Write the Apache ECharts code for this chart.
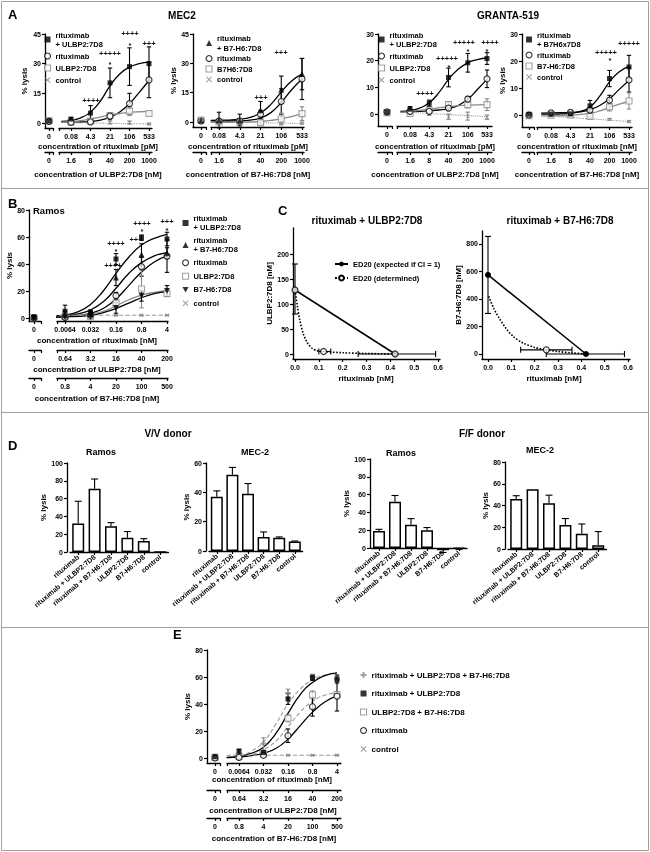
<!DOCTYPE html>
<html><head><meta charset="utf-8"><title>chart</title>
<script src="https://cdn.jsdelivr.net/npm/echarts@6/dist/echarts.min.js"></script>
<style>html,body{margin:0;padding:0;background:#fff;}#chart{width:650px;height:852px;will-change:transform;-webkit-font-smoothing:antialiased;}#chart svg{will-change:transform;}</style>
</head><body><div id="chart"></div>
<script>
// ================= DATA =================
const A_rituxLabels = ['0.08','4.3','21','106','533'];
const A_ulbpLabels = ['1.6','8','40','200','1000'];
const A_b7Labels = ['1.6','8','40','200','1000'];
const BE_rituxLabels = ['0.0064','0.032','0.16','0.8','4'];
const BE_ulbpLabels = ['0.64','3.2','16','40','200'];
const BE_b7Labels = ['0.8','4','20','100','500'];
const yTicksMEC2 = [0,15,30,45];
const yTicksGRANTA = [0,10,20,30];
const yTicksRamos = [0,20,40,60,80];

// A1: MEC2, rituximab + ULBP2:7D8   (zero = value at concentration 0: RU, R, U, control)
const A1_zero = [1.0, 0.8, 1.2, 0.3];
const A1_RU = [2.0, 5.0, 20.3, 28.5, 30.0];
const A1_RU_err = [0.6, 3.8, 7.5, 9.5, 8.5];
const A1_R = [0.4, 0.6, 3.5, 9.8, 21.8];
const A1_R_err = [0.5, 0.8, 1.5, 5.2, 9.0];
const A1_U = [0.4, 1.0, 3.8, 6.0, 4.8];
const A1_U_err = [0.5, 1.0, 1.5, 2.2, 1.0];
const A1_C = [-0.2, 0.2, 0.3, 0.2, -0.5];
const A1_C_err = [0.4, 0.4, 0.8, 0.8, 0.4];
const A1_RU_fit = [[0.5,0.8],[1,1.3],[1.5,2.6],[2,5.5],[2.5,11],[3,18.8],[3.5,24.8],[4,28.3],[4.5,30],[5,30.8]];
const A1_R_fit = [[0.5,0.4],[1,0.4],[1.5,0.5],[2,0.7],[2.5,1.4],[3,3],[3.5,5.6],[4,9.8],[4.5,15.5],[5,21.5]];
const A1_U_fit = [[0.5,0.4],[1,0.7],[1.5,1.2],[2,2],[2.5,3],[3,4],[3.5,4.8],[4,5.4],[4.5,5.7],[5,5.9]];
const A1_C_fit = [[0.5,0.3],[5,-0.5]];
const A1_sig = [[2,11.6,'++++'],[3,35.4,'+++++'],[3,29.8,'*'],[4,45.5,'++++'],[4,39.4,'*'],[5,40.4,'+++']];

// A2: MEC2, rituximab + B7-H6:7D8
const A2_zero = [0.8, 0.5, 1.0, 0.2];
const A2_RB = [1.0, 1.0, 6.0, 16.5, 24.5];
const A2_RB_err = [4.0, 3.0, 4.5, 7.0, 8.0];
const A2_R = [0.5, 0.6, 4.0, 10.5, 22.0];
const A2_R_err = [1.0, 1.0, 2.0, 6.5, 10.5];
const A2_B = [0.0, 0.2, -0.3, 1.5, 4.3];
const A2_B_err = [1.0, 1.0, 1.0, 3.0, 3.5];
const A2_C = [0.0, 0.0, -0.3, -0.5, -0.6];
const A2_C_err = [0.5, 0.5, 0.5, 0.5, 0.5];
const A2_RB_fit = [[0.6,0.8],[1,0.9],[1.5,1],[2,1.4],[2.5,2.4],[3,4.6],[3.5,9],[4,15.3],[4.5,21],[5,24.5]];
const A2_R_fit = [[0.6,0.4],[1,0.4],[1.5,0.5],[2,0.6],[2.5,1],[3,2],[3.5,4.8],[4,10],[4.5,16.5],[5,22]];
const A2_B_fit = [[0.6,-0.2],[1,-0.2],[2,-0.1],[2.5,0],[3,0.3],[3.5,0.8],[4,1.6],[4.5,2.8],[5,4.3]];
const A2_C_fit = [[0.6,0.2],[5,-0.8]];
const A2_sig = [[3,12.8,'+++'],[4,35.8,'+++']];

// A3: GRANTA-519, rituximab + ULBP2:7D8
const A3_zero = [0.7, 0.8, 0.5, 0.5];
const A3_RU = [1.8, 4.0, 13.7, 19.2, 20.8];
const A3_RU_err = [1.0, 1.2, 3.5, 3.5, 2.2];
const A3_R = [1.0, 1.0, 2.2, 5.6, 13.2];
const A3_R_err = [0.5, 0.5, 0.8, 1.0, 3.3];
const A3_U = [0.2, 1.5, 3.5, 3.5, 3.5];
const A3_U_err = [0.5, 0.8, 1.0, 1.2, 2.2];
const A3_C = [0.3, 0.0, -1.0, -0.8, -1.2];
const A3_C_err = [0.5, 0.5, 1.0, 1.5, 0.8];
const A3_RU_fit = [[0.5,1],[1,1.3],[1.5,2.2],[2,4.2],[2.5,8],[3,13],[3.5,16.8],[4,19.2],[4.5,20.4],[5,21]];
const A3_R_fit = [[0.5,0.8],[1,0.9],[1.5,1],[2,1.2],[2.5,1.5],[3,2],[3.5,3.2],[4,5.5],[4.5,9.2],[5,13]];
const A3_U_fit = [[0.5,0.6],[1,0.9],[2,1.8],[3,2.8],[4,3.3],[5,3.5]];
const A3_C_fit = [[0.5,0.8],[5,-1]];
const A3_sig = [[1.8,7.9,'++++'],[2.9,21.0,'+++++'],[3,17.5,'*'],[3.8,27,'+++++'],[4,23.6,'*'],[5.15,27,'++++'],[5,23.6,'*']];

// A4: GRANTA-519, rituximab + B7-H6:7D8
const A4_zero = [0.3, 0.0, -0.3, 0.0];
const A4_RB = [0.3, 0.4, 3.4, 13.5, 17.8];
const A4_RB_err = [0.5, 0.5, 2.0, 3.0, 4.3];
const A4_R = [0.8, 1.0, 1.8, 5.5, 13.0];
const A4_R_err = [0.5, 0.5, 0.8, 1.8, 4.5];
const A4_B = [-0.1, 0.0, -0.5, 3.0, 5.2];
const A4_B_err = [0.5, 0.5, 0.5, 1.5, 3.0];
const A4_C = [-0.5, -0.6, -1.0, -1.6, -2.4];
const A4_C_err = [0.3, 0.3, 0.3, 0.3, 0.3];
const A4_RB_fit = [[0.5,0.3],[1,0.3],[1.5,0.4],[2,0.6],[2.5,1.3],[3,3],[3.5,7],[4,12.3],[4.5,16],[5,18]];
const A4_R_fit = [[0.5,0.7],[1,0.8],[2,0.9],[2.5,1.2],[3,2],[3.5,3.5],[4,6],[4.5,9.5],[5,12.8]];
const A4_B_fit = [[0.5,-0.3],[1,-0.3],[2,-0.1],[3,0.6],[3.5,1.5],[4,2.8],[4.5,4],[5,5]];
const A4_C_fit = [[0.5,-0.2],[5,-2.4]];
const A4_sig = [[3.8,23.5,'+++++'],[4,20.5,'*'],[5,26.7,'+++++']];

// B: Ramos  (zero: RU, RB, R, U, B, control)
const B_zero = [1.0, 0.5, 0.0, 0.0, 0.0, -1.0];
const B_RU = [5.0, 4.0, 43.7, 59.5, 58.5];
const B_RU_err = [4.5, 2.0, 4.0, 2.0, 5.0];
const B_RB = [2.0, 3.0, 30.0, 47.0, 48.0];
const B_RB_err = [3.0, 2.0, 6.0, 8.0, 4.0];
const B_R = [0.5, 2.0, 16.5, 38.0, 45.8];
const B_R_err = [1.0, 1.0, 2.5, 7.0, 12.0];
const B_U = [1.0, 1.0, 11.0, 21.5, 18.0];
const B_U_err = [1.0, 1.0, 2.0, 14.0, 2.0];
const B_B = [0.5, 1.0, 7.5, 16.5, 20.0];
const B_B_err = [1.0, 1.0, 4.0, 4.0, 4.0];
const B_C = [2.0, 2.0, 2.0, 2.0, 2.0];
const B_C_err = [0.3, 0.3, 0.3, 0.3, 0.3];
const B_RU_fit = [[0.1,1],[1,2.2],[1.5,4.5],[2,10],[2.5,20],[3,33],[3.5,45],[4,54],[4.5,59],[5,62]];
const B_RB_fit = [[0.1,0.8],[1,1.5],[1.5,3],[2,6],[2.5,12],[3,22],[3.5,33],[4,41],[4.5,46],[5,48.5]];
const B_R_fit = [[0.1,0.5],[1,1],[1.5,1.8],[2,3.5],[2.5,7],[3,14],[3.5,24],[4,34],[4.5,41.5],[5,46]];
const B_U_fit = [[0.1,0.5],[1,1],[2,3],[2.5,5],[3,9],[3.5,13.5],[4,17],[4.5,19],[5,20]];
const B_B_fit = [[0.1,0.5],[1,0.8],[2,2],[2.5,4],[3,7],[3.5,11],[4,15],[4.5,18],[5,19.5]];
const B_C_fit = [[0,2],[5,2]];
const B_sig = [[3,55.3,'++++'],[3,49.6,'*'],[2.9,39.3,'++++'],[4,70.1,'++++'],[4,64.4,'*'],[3.8,58.3,'+++'],[5,71.6,'+++'],[5,65.2,'*']];

// C: isobolograms
const C1_expected = [[0,128],[0.42,0]];
const C1_expYErr = [[0,128,80,180]];
const C1_detPoints = [[0,128],[0.12,5],[0.42,0]];
const C1_detCurve = [[0,128],[0.01,96],[0.02,68],[0.035,40],[0.05,24],[0.07,12],[0.09,7],[0.12,5],[0.2,2.5],[0.3,1],[0.42,0]];
const C1_xErr = [[0.12,5,0.1,0.15],[0.42,0,0.265,0.59]];
const C2_expected = [[0,575],[0.42,0]];
const C2_expYErr = [[0,575,295,855]];
const C2_detPoints = [[0.25,30]];
const C2_detCurve = [[0.003,420],[0.025,330],[0.05,255],[0.08,180],[0.11,125],[0.15,80],[0.2,48],[0.25,30],[0.3,18],[0.36,8],[0.42,0]];
const C2_xErr = [[0.25,30,0.14,0.36],[0.42,0,0.25,0.585]];
const C1_yTicks = [0,50,100,150,200];
const C2_yTicks = [0,200,400,600,800];
const C_xTicks = [0,0.1,0.2,0.3,0.4,0.5,0.6];

// D: bar charts
const D_cats = ['rituximab','rituximab + ULBP2:7D8','rituximab + B7-H6:7D8','ULBP2:7D8','B7-H6:7D8','control'];
const D1_vals = [32, 71, 29, 16, 12.5, 0];
const D1_err = [25, 11, 4, 7, 2.5, 0];
const D2_vals = [37, 52, 39, 9.5, 9, 6.5];
const D2_err = [4, 5, 7, 3.5, 0.6, 0.3];
const D3_vals = [19, 52, 26, 20, -2.5, -0.5];
const D3_err = [2, 7, 7, 3, 2.5, 1];
const D4_vals = [46, 55, 42, 22, 14, 3.5];
const D4_err = [3, 0, 7.5, 6, 9, 12.5];

// E: Ramos, triple combination (zero: RUB, RU, UB, R, control)
const E_zero = [1.0, 1.0, 0.5, 0.0, 0.0];
const E_RUB = [1.0, 10.5, 48.0, 60.0, 58.5];
const E_RUB_err = [1.0, 4.5, 3.0, 2.0, 2.0];
const E_RU = [5.0, 4.0, 43.7, 59.5, 58.5];
const E_RU_err = [1.5, 1.5, 4.0, 2.0, 3.0];
const E_UB = [1.0, 3.0, 29.4, 46.7, 47.0];
const E_UB_err = [1.0, 1.0, 2.5, 3.0, 2.0];
const E_R = [0.5, 2.0, 16.5, 38.0, 45.8];
const E_R_err = [1.0, 1.0, 5.0, 7.0, 11.0];
const E_C = [2.0, 2.0, 2.0, 2.0, 2.0];
const E_C_err = [0.3, 0.3, 0.3, 0.3, 0.3];
const E_RUB_fit = [[0.5,0.5],[1,1.5],[1.5,5],[2,12],[2.5,25],[3,40],[3.5,51],[4,58],[4.5,61.5],[5,63]];
const E_RU_fit = [[0.5,0.5],[1,1.2],[1.5,3.5],[2,8],[2.5,18],[3,33],[3.5,47],[4,56],[4.5,61],[5,63]];
const E_UB_fit = [[0.5,0.3],[1,1],[1.5,2.5],[2,6],[2.5,12.5],[3,23],[3.5,34],[4,42],[4.5,46.5],[5,48.5]];
const E_R_fit = [[0.5,0.3],[1,0.8],[1.5,1.8],[2,3.5],[2.5,7],[3,14],[3.5,24],[4,34],[4.5,41.5],[5,46]];
const E_C_fit = [[0.5,2],[5,2]];

// ================= BUILD =================
const FONT = '"Liberation Sans", Arial, Helvetica, sans-serif';
const BLK = '#000', GRY = '#8a8a8a', GRYL = '#9c9c9c';
const XPATH = 'path://M0,1.3L1.3,0L5,3.7L8.7,0L10,1.3L6.3,5L10,8.7L8.7,10L5,6.3L1.3,10L0,8.7L3.7,5Z';
const PLUS = 'path://M3.3,0H6.7V3.3H10V6.7H6.7V10H3.3V6.7H0V3.3H3.3Z';
const DOWN = 'path://M0,0L10,0L5,9Z';
const STY = {
  RU:   {symbol:'rect', size:5, fill:BLK, stroke:null, lc:BLK, lt:'solid', z:6},
  RBt:  {symbol:'triangle', size:6, fill:BLK, stroke:null, lc:BLK, lt:'solid', z:6},
  R:    {symbol:'circle', size:6, fill:'#fff', stroke:BLK, lc:BLK, lt:'solid', z:5},
  U:    {symbol:'rect', size:6, fill:'#fff', stroke:GRY, lc:GRY, lt:'solid', z:4},
  Bd:   {symbol:DOWN, size:6, fill:BLK, stroke:null, lc:BLK, lt:'solid', z:5},
  Cdot: {symbol:XPATH, size:4, fill:GRY, stroke:null, lc:GRYL, lt:'dotted', z:3},
  Cdash:{symbol:XPATH, size:4, fill:GRY, stroke:null, lc:GRYL, lt:'dashed', z:3},
  UBd:  {symbol:'rect', size:6, fill:'#fff', stroke:GRY, lc:GRYL, lt:'dashed', z:4},
  RUB:  {symbol:PLUS, size:6, fill:GRY, stroke:null, lc:GRYL, lt:'dashed', z:5}
};

const option = {animation:false, backgroundColor:'#fff', textStyle:{fontFamily:FONT},
  grid:[], xAxis:[], yAxis:[], series:[], legend:[], graphic:[]};

function addGrid(g){ option.grid.push(Object.assign({outerBoundsMode:'none', containLabel:false, show:false}, g)); return option.grid.length-1; }
function addX(a){ option.xAxis.push(a); return option.xAxis.length-1; }
function addY(a){ option.yAxis.push(a); return option.yAxis.length-1; }
function lineCfg(){ return {show:true, onZero:false, lineStyle:{color:BLK, width:1.3}}; }
function tickCfg(vals){ const t={show:true, inside:false, length:3, lineStyle:{color:BLK, width:1.2}}; if(vals) t.customValues=vals; return t; }
function labCfg(size, margin, vals, fmt){ const l={show:true, color:BLK, fontSize:size, fontWeight:'bold', fontFamily:FONT, margin:margin}; if(vals) l.customValues=vals; if(fmt) l.formatter=fmt; return l; }
const nameStyle = {fontSize:8, fontWeight:'bold', fontFamily:FONT, color:BLK};

function errSeries(xi, yi, data, color, capW, horizontal, capBothEnds){
  return {type:'custom', xAxisIndex:xi, yAxisIndex:yi, data:data, silent:true, z:3, clip:false,
    renderItem:function(p, api){
      const x=api.value(0), y=api.value(1), lo=api.value(2), hi=api.value(3);
      const a = horizontal ? api.coord([lo,y]) : api.coord([x,lo]);
      const b = horizontal ? api.coord([hi,y]) : api.coord([x,hi]);
      const st={stroke:color, lineWidth:1.1, fill:null};
      const ch=[{type:'line', shape:{x1:a[0],y1:a[1],x2:b[0],y2:b[1]}, style:st}];
      const ends = capBothEnds ? [a,b] : [b];
      ends.forEach(function(q){
        if(horizontal) ch.push({type:'line', shape:{x1:q[0],y1:q[1]-capW,x2:q[0],y2:q[1]+capW}, style:st});
        else ch.push({type:'line', shape:{x1:q[0]-capW,y1:q[1],x2:q[0]+capW,y2:q[1]}, style:st});
      });
      return {type:'group', children:ch};
    }};
}
// significance marks drawn as text at data coordinates
function sigSeries(xi, yi, sig){
  return {type:'custom', xAxisIndex:xi, yAxisIndex:yi, silent:true, clip:false, z:8,
    data:sig.map(function(a){return [a[0], a[1]];}),
    renderItem:function(p, api){
      const c = api.coord([api.value(0), api.value(1)]);
      return {type:'text', x:Math.round(c[0]), y:Math.round(c[1]), style:{text:sig[p.dataIndex][2], fill:'#111', font:'bold 7.5px '+FONT,
        align:'center', verticalAlign:'middle', textAlign:'center', textVerticalAlign:'middle'}};
    }};
}
function itemStyleOf(s){ return s.stroke ? {color:s.fill, borderColor:s.stroke, borderWidth:1.1} : {color:s.fill, borderWidth:0}; }

function dosePlot(id, L, groups, sig){
  const h = L.bottom - L.top;
  const scale = (L.y0 - L.top) / L.yMax;
  const yMin = -(L.bottom - L.y0) / scale;
  const zg = addGrid({left:L.yx, top:L.top, width:L.zR-L.yx, height:h});
  const mg = addGrid({left:L.mL, top:L.top, width:L.mR-L.mL, height:h});
  const zMin = L.yx - L.z0, zMax = L.zR - L.z0;
  const mMin = 1 + (L.mL-L.p1)/L.step, mMax = 1 + (L.mR-L.p1)/L.step;
  const yz = addY({type:'value', gridIndex:zg, min:yMin, max:L.yMax, position:'left',
    axisLine:lineCfg(), axisTick:tickCfg(L.yTicks), axisLabel:labCfg(7, 4, L.yTicks), splitLine:{show:false},
    name:L.yName||'', nameLocation:'middle', nameRotate:90, nameGap:L.yNameGap||14, nameTextStyle:nameStyle});
  const ym = addY({type:'value', gridIndex:mg, min:yMin, max:L.yMax, show:false, splitLine:{show:false}});
  let xz=null, xm=null;
  L.rows.forEach(function(labels, r){
    const off = L.rowOff[r];
    const a = addX({type:'value', gridIndex:zg, min:zMin, max:zMax, position:'bottom', offset:off,
      axisLine:lineCfg(), axisTick:tickCfg([0, zMax]), axisLabel:labCfg(7, 5, [0], function(){return '0';}), splitLine:{show:false}});
    const b = addX({type:'value', gridIndex:mg, min:mMin, max:mMax, position:'bottom', offset:off,
      axisLine:lineCfg(), axisTick:tickCfg([mMin,1,2,3,4,5]), axisLabel:labCfg(7, 5, [1,2,3,4,5], function(v){return labels[Math.round(v)-1];}), splitLine:{show:false}});
    if(r===0){ xz=a; xm=b; }
  });
  const legendNames = [];
  groups.forEach(function(g){
    const s = STY[g.sty];
    const nm = g.label + '@' + id;
    legendNames.push(nm);
    option.series.push({type:'line', name:'fit '+nm, xAxisIndex:xm, yAxisIndex:ym, data:g.fit, smooth:0.5,
      showSymbol:false, symbol:'none', clip:false, silent:true, z:2,
      lineStyle:{color:s.lc, width:s.lt==='solid'?1.3:1.1, type:s.lt}});
    option.series.push(errSeries(xm, ym, g.pts.map(function(v,i){return [i+1, v, v-g.err[i], v+g.err[i]];}), s.stroke||s.fill, 2.2, false, true));
    const sc = {type:'scatter', name:nm, symbol:s.symbol, symbolSize:s.size, itemStyle:itemStyleOf(s), clip:false, z:s.z, silent:true};
    option.series.push(Object.assign({xAxisIndex:xm, yAxisIndex:ym, data:g.pts.map(function(v,i){return [i+1,v];})}, sc));
    option.series.push(Object.assign({xAxisIndex:xz, yAxisIndex:yz, data:[[0, g.zero]]}, sc));
  });
  if(sig && sig.length) option.series.push(sigSeries(xm, ym, sig));
  option.legend.push({orient:'vertical', left:L.lg.left, top:L.lg.top, itemGap:L.lg.gap, itemWidth:6, itemHeight:6,
    padding:0, selectedMode:false, data:legendNames, formatter:function(n){return n.split('@')[0];},
    itemStyle:{borderWidth:1.1},
    textStyle:{fontSize:L.lg.fs||7.5, fontWeight:'bold', fontFamily:FONT, color:BLK, lineHeight:L.lg.lh}});
}

function barPlot(L, vals, errs){
  const g = addGrid({left:L.left, top:L.top, width:L.width, height:L.height});
  const xi = addX({type:'category', gridIndex:g, data:D_cats, position:'bottom',
    axisLine:lineCfg(), axisTick:{show:true, alignWithLabel:true, length:3, lineStyle:{color:BLK, width:1.2}},
    axisLabel:{show:true, interval:0, rotate:40, fontSize:7, fontWeight:'bold', fontFamily:FONT, color:BLK, margin:4}, splitLine:{show:false}});
  const yi = addY({type:'value', gridIndex:g, min:0, max:L.max, interval:20, position:'left', offset:L.yOff,
    axisLine:lineCfg(), axisTick:tickCfg(), axisLabel:labCfg(7, 4), splitLine:{show:false},
    name:'% lysis', nameLocation:'middle', nameRotate:90, nameGap:L.nameGap, nameTextStyle:nameStyle});
  option.series.push({type:'bar', xAxisIndex:xi, yAxisIndex:yi, data:vals, barWidth:12, clip:false, silent:true, z:2,
    itemStyle:{color:'#fff', borderColor:BLK, borderWidth:1.5}});
  option.series.push(errSeries(xi, yi, vals.map(function(v,i){ const e=errs[i]; return [i, v, v, v<0 ? v-e : v+e]; }).filter(function(d,i){return errs[i]>0;}), BLK, 3.5, false, false));
}

function isoPlot(id, L, expected, expYErr, detPoints, detCurve, xErr, yTicks, yName, legendCfg){
  const g = addGrid({left:L.left, top:L.top, width:L.width, height:L.height});
  const xi = addX({type:'value', gridIndex:g, min:L.xMin, max:L.xMax, position:'bottom',
    axisLine:lineCfg(), axisTick:tickCfg(C_xTicks), axisLabel:labCfg(7, 5, C_xTicks, function(v){return v.toFixed(1);}), splitLine:{show:false}});
  const yi = addY({type:'value', gridIndex:g, min:L.yMin, max:L.yMax, position:'left',
    axisLine:lineCfg(), axisTick:tickCfg(yTicks), axisLabel:labCfg(7, 4, yTicks), splitLine:{show:false},
    name:yName, nameLocation:'middle', nameRotate:90, nameGap:L.nameGap, nameTextStyle:nameStyle});
  const expName = 'ED20 (expected if CI = 1)@' + id, detName = 'ED20 (determined)@' + id;
  option.series.push({type:'line', name:expName, xAxisIndex:xi, yAxisIndex:yi, data:expected, symbol:'circle', symbolSize:6,
    itemStyle:{color:BLK}, lineStyle:{color:BLK, width:1.5}, clip:false, silent:true, z:4});
  option.series.push({type:'line', name:detName, xAxisIndex:xi, yAxisIndex:yi, smooth:0.3,
    data:detCurve.map(function(p){return {value:p, symbol:'none'};}), symbol:'circle', symbolSize:6, showAllSymbol:true,
    itemStyle:{color:'#fff', borderColor:BLK, borderWidth:1.2}, lineStyle:{color:BLK, width:1.6, type:'dotted'}, clip:false, silent:true, z:3});
  option.series.push({type:'scatter', name:detName, xAxisIndex:xi, yAxisIndex:yi, data:detPoints, symbol:'circle', symbolSize:6,
    itemStyle:{color:'#fff', borderColor:BLK, borderWidth:1.2}, clip:false, silent:true, z:6});
  option.series.push(errSeries(xi, yi, expYErr, BLK, 3, false, true));
  option.series.push(errSeries(xi, yi, xErr, BLK, 3, true, true));
  if(legendCfg){
    option.legend.push({orient:'vertical', left:legendCfg.left, top:legendCfg.top, itemGap:legendCfg.gap, itemWidth:13, itemHeight:6,
      padding:0, selectedMode:false, data:[expName, detName], formatter:function(n){return n.split('@')[0];},
      textStyle:{fontSize:7.5, fontWeight:'bold', fontFamily:FONT, color:BLK}});
  }
}

// ---- Panel A ----
dosePlot('A1', {yx:45,z0:49,zR:53,mL:59,mR:152,p1:71,step:19.5,top:34,y0:123,bottom:128,yMax:45,yTicks:yTicksMEC2,
  rows:[A_rituxLabels,A_ulbpLabels], rowOff:[0,24], yName:'% lysis', yNameGap:17, lg:{left:44,top:30.5,gap:3,lh:9}}, [
  {label:'rituximab\n+ ULBP2:7D8', sty:'RU', pts:A1_RU, err:A1_RU_err, zero:A1_zero[0], fit:A1_RU_fit},
  {label:'rituximab', sty:'R', pts:A1_R, err:A1_R_err, zero:A1_zero[1], fit:A1_R_fit},
  {label:'ULBP2:7D8', sty:'U', pts:A1_U, err:A1_U_err, zero:A1_zero[2], fit:A1_U_fit},
  {label:'control', sty:'Cdot', pts:A1_C, err:A1_C_err, zero:A1_zero[3], fit:A1_C_fit}], A1_sig);
dosePlot('A2', {yx:193,z0:201,zR:206,mL:211,mR:304,p1:219,step:20.75,top:34,y0:122,bottom:127,yMax:45,yTicks:yTicksMEC2,
  rows:[A_rituxLabels,A_b7Labels], rowOff:[0,25], yName:'% lysis', yNameGap:12, lg:{left:205.5,top:33,gap:0.5,lh:10}}, [
  {label:'rituximab\n+ B7-H6:7D8', sty:'RBt', pts:A2_RB, err:A2_RB_err, zero:A2_zero[0], fit:A2_RB_fit},
  {label:'rituximab', sty:'R', pts:A2_R, err:A2_R_err, zero:A2_zero[1], fit:A2_R_fit},
  {label:'B7H6:7D8', sty:'U', pts:A2_B, err:A2_B_err, zero:A2_zero[2], fit:A2_B_fit},
  {label:'control', sty:'Cdot', pts:A2_C, err:A2_C_err, zero:A2_zero[3], fit:A2_C_fit}], A2_sig);
dosePlot('A3', {yx:378,z0:387,zR:392,mL:397,mR:492,p1:410,step:19.25,top:34,y0:114,bottom:126,yMax:30,yTicks:yTicksGRANTA,
  rows:[A_rituxLabels,A_ulbpLabels], rowOff:[0,26], yName:'', lg:{left:378,top:30.5,gap:3,lh:9}}, [
  {label:'rituximab\n+ ULBP2:7D8', sty:'RU', pts:A3_RU, err:A3_RU_err, zero:A3_zero[0], fit:A3_RU_fit},
  {label:'rituximab', sty:'R', pts:A3_R, err:A3_R_err, zero:A3_zero[1], fit:A3_R_fit},
  {label:'ULBP2:7D8', sty:'U', pts:A3_U, err:A3_U_err, zero:A3_zero[2], fit:A3_U_fit},
  {label:'control', sty:'Cdot', pts:A3_C, err:A3_C_err, zero:A3_zero[3], fit:A3_C_fit}], A3_sig);
dosePlot('A4', {yx:522,z0:529,zR:534,mL:537,mR:632,p1:551,step:19.5,top:34,y0:115,bottom:127,yMax:30,yTicks:yTicksGRANTA,
  rows:[A_rituxLabels,A_b7Labels], rowOff:[0,25], yName:'% lysis', yNameGap:15, lg:{left:525.5,top:30.5,gap:2,lh:9}}, [
  {label:'rituximab\n+ B7H6x7D8', sty:'RU', pts:A4_RB, err:A4_RB_err, zero:A4_zero[0], fit:A4_RB_fit},
  {label:'rituximab', sty:'R', pts:A4_R, err:A4_R_err, zero:A4_zero[1], fit:A4_R_fit},
  {label:'B7-H6:7D8', sty:'U', pts:A4_B, err:A4_B_err, zero:A4_zero[2], fit:A4_B_fit},
  {label:'control', sty:'Cdot', pts:A4_C, err:A4_C_err, zero:A4_zero[3], fit:A4_C_fit}], A4_sig);

// ---- Panel B ----
dosePlot('B', {yx:29,z0:34,zR:41,mL:57,mR:168,p1:65,step:25.5,top:210,y0:318,bottom:321,yMax:80,yTicks:yTicksRamos,
  rows:[BE_rituxLabels,BE_ulbpLabels,BE_b7Labels], rowOff:[0,29,57], yName:'% lysis', yNameGap:9, lg:{left:182,top:214.5,gap:5,lh:8.5}}, [
  {label:'rituximab\n+ ULBP2:7D8', sty:'RU', pts:B_RU, err:B_RU_err, zero:B_zero[0], fit:B_RU_fit},
  {label:'rituximab\n+ B7-H6:7D8', sty:'RBt', pts:B_RB, err:B_RB_err, zero:B_zero[1], fit:B_RB_fit},
  {label:'rituximab', sty:'R', pts:B_R, err:B_R_err, zero:B_zero[2], fit:B_R_fit},
  {label:'ULBP2:7D8', sty:'U', pts:B_U, err:B_U_err, zero:B_zero[3], fit:B_U_fit},
  {label:'B7-H6:7D8', sty:'Bd', pts:B_B, err:B_B_err, zero:B_zero[4], fit:B_B_fit},
  {label:'control', sty:'Cdash', pts:B_C, err:B_C_err, zero:B_zero[5], fit:B_C_fit}], B_sig);

// ---- Panel C ----
isoPlot('C1', {left:293, top:228, width:147, height:131, xMin:-0.0084, xMax:0.6084, yMin:-10, yMax:252, nameGap:16},
  C1_expected, C1_expYErr, C1_detPoints, C1_detCurve, C1_xErr, C1_yTicks, 'ULBP2:7D8 [nM]', {left:334, top:260, gap:6});
isoPlot('C2', {left:482, top:231, width:148, height:128, xMin:-0.0257, xMax:0.6086, yMin:-36.4, yMax:894.5, nameGap:17},
  C2_expected, C2_expYErr, C2_detPoints, C2_detCurve, C2_xErr, C2_yTicks, 'B7-H6:7D8 [nM]', null);

// ---- Panel D ----
barPlot({left:70, top:463, width:98.4, height:89, max:100, yOff:3, nameGap:15}, D1_vals, D1_err);
barPlot({left:209, top:463, width:93.6, height:88, max:60, yOff:3, nameGap:11}, D2_vals, D2_err);
barPlot({left:371, top:459, width:96, height:89, max:100, yOff:1, nameGap:15}, D3_vals, D3_err);
barPlot({left:508, top:462, width:98.4, height:87, max:80, yOff:3, nameGap:10}, D4_vals, D4_err);

// ---- Panel E ----
dosePlot('E', {yx:207,z0:215,zR:220,mL:227,mR:341,p1:239,step:24.5,top:650,y0:758,bottom:763,yMax:80,yTicks:yTicksRamos,
  rows:[BE_rituxLabels,BE_ulbpLabels,BE_b7Labels], rowOff:[0,27,55], yName:'% lysis', yNameGap:15, lg:{left:360,top:670.5,gap:9.5,lh:9,fs:8}}, [
  {label:'rituximab + ULBP2:7D8 + B7-H6:7D8', sty:'RUB', pts:E_RUB, err:E_RUB_err, zero:E_zero[0], fit:E_RUB_fit},
  {label:'rituximab + ULBP2:7D8', sty:'RU', pts:E_RU, err:E_RU_err, zero:E_zero[1], fit:E_RU_fit},
  {label:'ULBP2:7D8 + B7-H6:7D8', sty:'UBd', pts:E_UB, err:E_UB_err, zero:E_zero[2], fit:E_UB_fit},
  {label:'rituximab', sty:'R', pts:E_R, err:E_R_err, zero:E_zero[3], fit:E_R_fit},
  {label:'control', sty:'Cdash', pts:E_C, err:E_C_err, zero:E_zero[4], fit:E_C_fit}], []);

// ---- texts and panel frames ----
function T(s, x, y, size, align){
  option.graphic.push({type:'text', x:x, y:y, silent:true, z:10,
    style:{text:s, font:'bold '+size+'px '+FONT, fill:BLK, align:align||'center', verticalAlign:'middle', textAlign:align||'center', textVerticalAlign:'middle'}});
}
function HL(y){ option.graphic.push({type:'line', silent:true, shape:{x1:1, y1:y, x2:649, y2:y}, style:{stroke:'#a0a0a0', lineWidth:1}}); }
option.graphic.push({type:'rect', silent:true, shape:{x:1.5, y:1.5, width:647, height:849}, style:{fill:'none', stroke:'#a0a0a0', lineWidth:1}});
HL(188.5); HL(412.5); HL(627.5);

T('A', 8, 14, 13, 'left'); T('MEC2', 182, 15, 10); T('GRANTA-519', 508, 15, 10);
T('concentration of rituximab [pM]', 98, 146, 8); T('concentration of ULBP2:7D8 [nM]', 98, 174, 8);
T('concentration of rituximab [pM]', 248, 146, 8); T('concentration of B7-H6:7D8 [nM]', 248, 174, 8);
T('concentration of rituximab [pM]', 435, 146, 8); T('concentration of ULBP2:7D8 [nM]', 435, 174, 8);
T('concentration of rituximab [nM]', 577, 146, 8); T('concentration of B7-H6:7D8 [nM]', 577, 174, 8);
T('B', 8, 203, 13, 'left'); T('Ramos', 33, 210, 9.5, 'left');
T('concentration of rituximab [nM]', 97, 340, 8); T('concentration of ULBP2:7D8 [nM]', 97, 369, 8); T('concentration of B7-H6:7D8 [nM]', 97, 398, 8);
T('C', 278, 210, 13, 'left'); T('rituximab + ULBP2:7D8', 367, 220, 10); T('rituximab + B7-H6:7D8', 560, 220, 10);
T('rituximab [nM]', 366, 378, 8); T('rituximab [nM]', 554, 378, 8);
T('D', 8, 445, 13, 'left'); T('V/V donor', 168, 433, 10); T('F/F donor', 482, 433, 10);
T('Ramos', 101, 452, 9); T('MEC-2', 255, 452, 9); T('Ramos', 401, 453, 9); T('MEC-2', 540, 450, 9);
T('E', 173, 634, 13, 'left');
T('concentration of rituximab [nM]', 272, 779, 8); T('concentration of ULBP2:7D8 [nM]', 273, 810, 8); T('concentration of B7-H6:7D8 [nM]', 274, 838, 8);

const chart = echarts.init(document.getElementById('chart'), null, {renderer:'svg', width:650, height:852});
chart.setOption(option);
</script></body></html>
